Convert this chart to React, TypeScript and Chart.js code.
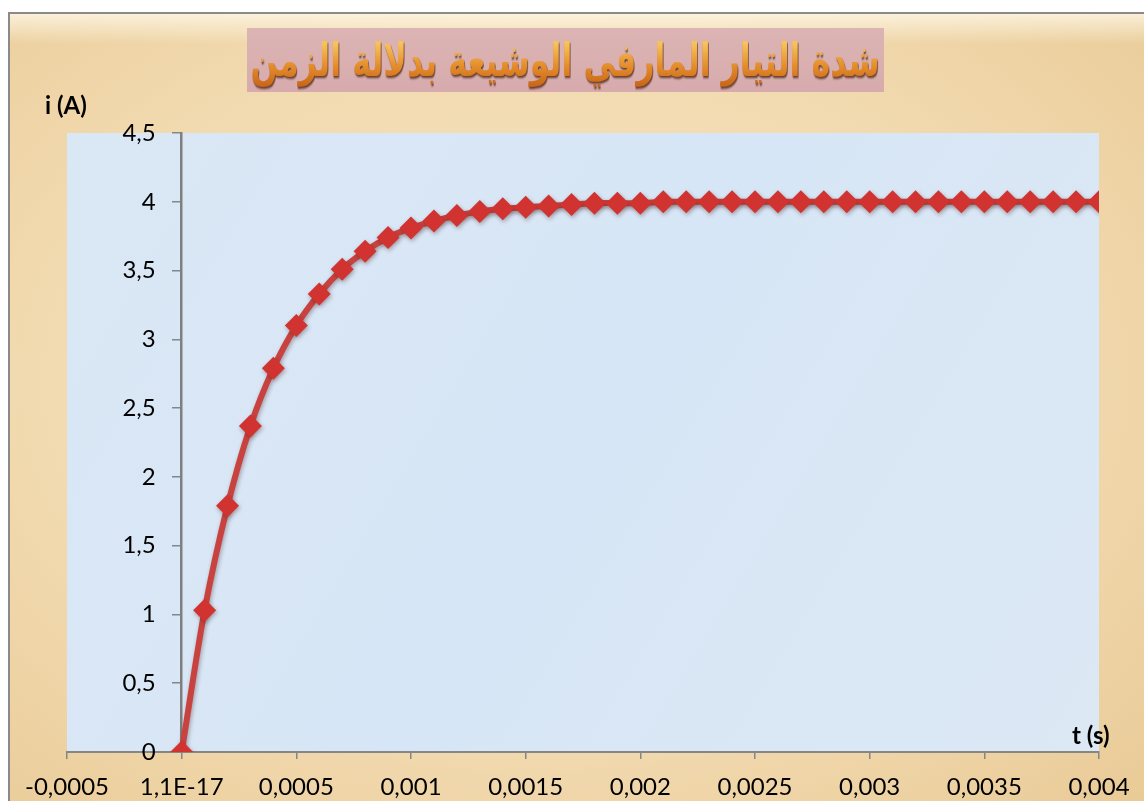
import React, { useEffect, useRef } from 'react';
import { Chart, registerables } from 'chart.js';

Chart.register(...registerables);

// ---- data ----
const timeValues: number[] = [
  0, 0.0001, 0.0002, 0.0003, 0.0004, 0.0005, 0.0006, 0.0007, 0.0008, 0.0009,
  0.001, 0.0011, 0.0012, 0.0013, 0.0014, 0.0015, 0.0016, 0.0017, 0.0018, 0.0019,
  0.002, 0.0021, 0.0022, 0.0023, 0.0024, 0.0025, 0.0026, 0.0027, 0.0028, 0.0029,
  0.003, 0.0031, 0.0032, 0.0033, 0.0034, 0.0035, 0.0036, 0.0037, 0.0038, 0.0039,
  0.004,
];
const currentValues: number[] = [
  0, 1.03, 1.79, 2.37, 2.79, 3.1, 3.33, 3.51, 3.64, 3.74,
  3.81, 3.86, 3.9, 3.93, 3.95, 3.96, 3.97, 3.98, 3.99, 3.99,
  3.99, 4.0, 4.0, 4.0, 4.0, 4.0, 4.0, 4.0, 4.0, 4.0,
  4.0, 4.0, 4.0, 4.0, 4.0, 4.0, 4.0, 4.0, 4.0, 4.0,
  4.0,
];
const xTickLabels: string[] = [
  '-0,0005', '1,1E-17', '0,0005', '0,001', '0,0015', '0,002', '0,0025', '0,003', '0,0035', '0,004',
];
const yTickLabels: string[] = ['0', '0,5', '1', '1,5', '2', '2,5', '3', '3,5', '4', '4,5'];
const chartTitle = 'شدة التيار المارفي الوشيعة بدلالة الزمن';
const yAxisTitle = 'i (A)';
const xAxisTitle = 't (s)';

const X_MIN = -0.0005;
const X_MAX = 0.004;
const X_STEP = 0.0005;
const Y_MIN = 0;
const Y_MAX = 4.5;
const Y_STEP = 0.5;

const plotBackground = {
  id: 'plotBackground',
  beforeDraw(chart: any) {
    const { ctx, chartArea } = chart;
    const { left, top, right, bottom } = chartArea;
    ctx.save();
    const g = ctx.createLinearGradient(left, top, right, bottom);
    g.addColorStop(0, '#dae7f5');
    g.addColorStop(0.5, '#d7e6f6');
    g.addColorStop(1, '#dce8f4');
    ctx.fillStyle = g;
    ctx.fillRect(left, top, right - left, bottom - top);
    ctx.restore();
  },
};

// The y axis sits at x = 0; move its tick labels to the left of the tick marks.
const yLabelOffset = {
  id: 'yLabelOffset',
  beforeDraw(chart: any) {
    const scale = chart.scales.y;
    if (!scale || (scale._labelItems && scale._shiftedLabels === scale._labelItems)) return;
    const items = scale.getLabelItems(chart.chartArea);
    items.forEach((it: any) => {
      if (it.options && it.options.translation) it.options.translation[0] -= 26;
    });
    scale._shiftedLabels = items;
  },
};

const seriesShadow = {
  id: 'seriesShadow',
  beforeDatasetDraw(chart: any) {
    const ctx = chart.ctx;
    ctx.save();
    ctx.shadowColor = 'rgba(60,20,20,0.35)';
    ctx.shadowBlur = 4;
    ctx.shadowOffsetX = 1;
    ctx.shadowOffsetY = 2;
  },
  afterDatasetDraw(chart: any) {
    chart.ctx.restore();
  },
};

export default function App() {
  const canvasRef = useRef<HTMLCanvasElement | null>(null);

  useEffect(() => {
    if (!canvasRef.current) return;
    const gray = '#868686';
    const chart = new Chart(canvasRef.current, {
      type: 'scatter',
      data: {
        datasets: [
          {
            label: 'i',
            data: timeValues.map((t, i) => ({ x: t, y: currentValues[i] })),
            showLine: true,
            borderColor: '#c8433f',
            borderWidth: 6,
            tension: 0.3,
            pointStyle: 'rectRot',
            pointRadius: 11.5,
            pointHoverRadius: 11.5,
            pointBackgroundColor: '#d13330',
            pointBorderColor: '#d13330',
            pointBorderWidth: 0,
          } as any,
        ],
      },
      options: {
        animation: false,
        responsive: false,
        maintainAspectRatio: false,
        layout: { padding: { left: 67, right: 45, top: 133, bottom: 0 } },
        plugins: {
          legend: { display: false },
          tooltip: { enabled: false },
          title: { display: false },
        },
        scales: {
          x: {
            type: 'linear',
            position: 'bottom',
            min: X_MIN,
            max: X_MAX,
            afterFit: (scale: any) => {
              scale.height = 49;
            },
            ticks: {
              stepSize: X_STEP,
              autoSkip: false,
              maxRotation: 0,
              color: '#000',
              padding: 14,
              font: { family: 'Lato', size: 24 },
              callback: (v: any) => xTickLabels[Math.round((Number(v) - X_MIN) / X_STEP)] ?? '',
            },
            grid: { drawOnChartArea: false, drawTicks: true, tickLength: 7, color: gray, lineWidth: 1.5 },
            border: { color: gray, width: 2 },
          },
          y: {
            type: 'linear',
            position: { x: 0 } as any,
            min: Y_MIN,
            max: Y_MAX,
            ticks: {
              stepSize: Y_STEP,
              color: '#000',
              padding: 17,
              font: { family: 'Lato', size: 24 },
              callback: (v: any) => yTickLabels[Math.round((Number(v) - Y_MIN) / Y_STEP)] ?? '',
            },
            grid: { drawOnChartArea: false, drawTicks: true, tickLength: 8, color: gray, lineWidth: 1.5 },
            border: { color: '#7f7f7f', width: 2.5 },
          },
        },
      } as any,
      plugins: [plotBackground, yLabelOffset, seriesShadow],
    });
    return () => chart.destroy();
  }, []);

  return (
    <div style={{ position: 'fixed', left: 0, top: 0, width: 1144, height: 801, overflow: 'hidden', background: '#ffffff' }}>
      <div
        style={{
          position: 'absolute',
          left: 8,
          top: 12,
          width: 1160,
          height: 820,
          border: '2px solid #8a8a8a',
          boxSizing: 'border-box',
          background:
            'linear-gradient(180deg, rgba(255,250,235,0.75) 0px, rgba(255,250,235,0) 30px), radial-gradient(ellipse at 45% 45%, #f6e4be 0%, #f2dab0 55%, #e8c994 100%)',
        }}
      />
      <canvas ref={canvasRef} width={1144} height={801} style={{ position: 'absolute', left: 0, top: 0 }} />
      <div
        style={{
          position: 'absolute',
          left: 247,
          top: 28,
          width: 637,
          height: 64,
          background: 'linear-gradient(180deg, #dcb4b4 0%, #d7abad 100%)',
          display: 'flex',
          alignItems: 'center',
          justifyContent: 'center',
          overflow: 'visible',
        }}
      >
        <div
          dir="rtl"
          style={{
            fontFamily: '"DejaVu Sans", sans-serif',
            fontWeight: 700,
            fontSize: 46,
            lineHeight: '64px',
            whiteSpace: 'nowrap',
            transform: 'scaleX(0.69)',
            flexShrink: 0,
            background: 'linear-gradient(180deg, #f7c25a 25%, #e48c2a 60%, #c05a14 100%)',
            WebkitBackgroundClip: 'text',
            backgroundClip: 'text',
            color: 'transparent',
            filter: 'drop-shadow(1px 2px 1px rgba(70,30,10,0.8))',
          }}
        >
          {chartTitle}
        </div>
      </div>
      <div
        style={{
          position: 'absolute',
          left: 45,
          top: 90,
          fontFamily: 'Lato, sans-serif',
          fontWeight: 700,
          fontSize: 24,
          lineHeight: '30px',
          color: '#000',
          whiteSpace: 'nowrap',
        }}
      >
        {yAxisTitle}
      </div>
      <div
        style={{
          position: 'absolute',
          left: 1072,
          top: 720,
          fontFamily: 'Lato, sans-serif',
          fontWeight: 700,
          fontSize: 24,
          lineHeight: '30px',
          color: '#000',
          whiteSpace: 'nowrap',
        }}
      >
        {xAxisTitle}
      </div>
    </div>
  );
}
